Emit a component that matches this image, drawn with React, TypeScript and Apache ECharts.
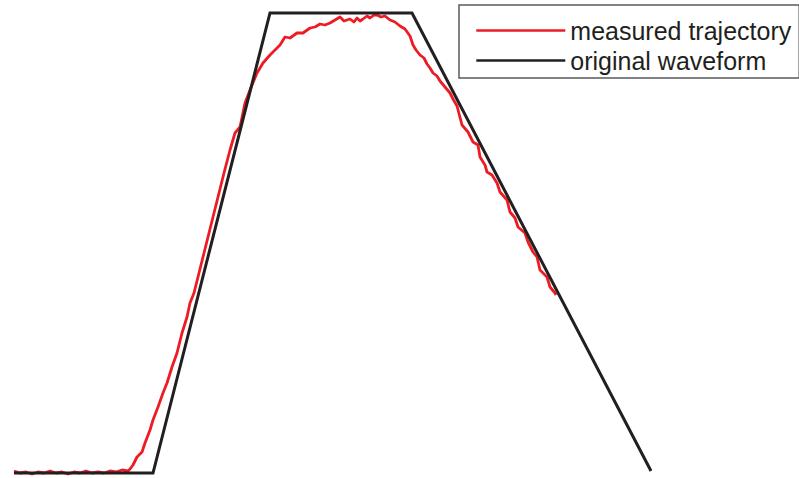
import React, { useEffect, useRef } from "react";
import * as echarts from "echarts";

// Time in ms, displacement in µm.
const waveTime = [0, 139, 256, 398, 637];
const waveValue = [0, 0, 460, 460, 2];

const measTime = [
  0, 6, 12, 18, 24, 30, 36, 42, 48, 54, 60, 66, 72, 78, 84, 90, 96, 102, 108, 114, 116,
  119, 123, 128, 131, 136, 139, 144, 149, 153, 158, 163, 168, 173, 176, 180, 185, 190, 195,
  200, 205, 210, 216, 221, 226, 231, 236, 243, 249, 256, 266, 271, 276, 283, 289, 296, 301,
  306, 311, 316, 321, 326, 330, 336, 340, 343, 346, 349, 353, 356, 360, 363, 367, 371, 376,
  381, 386, 391, 396, 399, 402, 406, 410, 413, 416, 419, 423, 426, 431, 436, 439, 443, 448,
  454, 459, 464, 466, 471, 473, 478, 483, 486, 493, 496, 501, 504, 511, 514, 519, 523, 526,
  533, 536, 541, 542,
];
const measValue = [
  2, 0, 1, -1, 1, 0, 2, 0, 1, -1, 1, 0, 2, 0, 1, 0, 2, 1, 3, 2, 4,
  8, 16, 21, 30, 43, 53, 66, 80, 90, 106, 120, 140, 156, 170, 180, 200, 220, 240,
  260, 280, 300, 323, 340, 346, 370, 383, 400, 410, 418, 428, 436, 435, 440, 440, 445, 446,
  449, 448, 450, 453, 456, 452, 454, 451, 455, 452, 454, 457, 455, 458, 458, 456, 457, 453,
  451, 447, 444, 437, 428, 423, 418, 415, 409, 405, 400, 397, 392, 386, 380, 374, 367, 348,
  341, 331, 328, 316, 308, 301, 298, 290, 281, 273, 261, 255, 246, 240, 231, 221, 216, 203,
  196, 186, 180, 178,
];

const seriesNames = ["measured trajectory", "original waveform"];
const seriesColors = ["#ed1c24", "#231f20"];

const zip = (xs: number[], ys: number[]) => xs.map((x, i) => [x, ys[i]]);

export default function App() {
  const ref = useRef<HTMLDivElement>(null);

  useEffect(() => {
    if (!ref.current) return;
    const chart = echarts.init(ref.current, undefined, { renderer: "svg" });
    chart.setOption({
      animation: false,
      backgroundColor: "#ffffff",
      grid: { left: 14, right: 0, top: 13, bottom: 5 },
      xAxis: { type: "value", min: 0, max: 785, show: false },
      yAxis: { type: "value", min: 0, max: 460, show: false },
      legend: {
        orient: "vertical",
        left: 459,
        top: 5,
        padding: [13, 8, 5, 16],
        itemWidth: 89,
        itemHeight: 25,
        itemGap: 5,
        borderColor: "#58595b",
        borderWidth: 1.5,
        backgroundColor: "#ffffff",
        itemStyle: { opacity: 0 },
        lineStyle: { width: 2.6 },
        textStyle: {
          fontFamily: "'Liberation Sans', Arial, sans-serif",
          fontSize: 25,
          lineHeight: 25,
          color: "#231f20",
        },
        data: seriesNames,
      },
      series: [
        {
          name: seriesNames[0],
          type: "line",
          data: zip(measTime, measValue),
          symbol: "none",
          clip: false,
          color: seriesColors[0],
          lineStyle: { color: seriesColors[0], width: 2.8, join: "round" },
          z: 2,
        },
        {
          name: seriesNames[1],
          type: "line",
          data: zip(waveTime, waveValue),
          symbol: "none",
          clip: false,
          color: seriesColors[1],
          lineStyle: { color: seriesColors[1], width: 3, join: "miter" },
          z: 3,
        },
      ],
    });
    return () => chart.dispose();
  }, []);

  return (
    <div
      ref={ref}
      style={{ position: "fixed", left: 0, top: 0, width: 799, height: 478, background: "#fff" }}
    />
  );
}
